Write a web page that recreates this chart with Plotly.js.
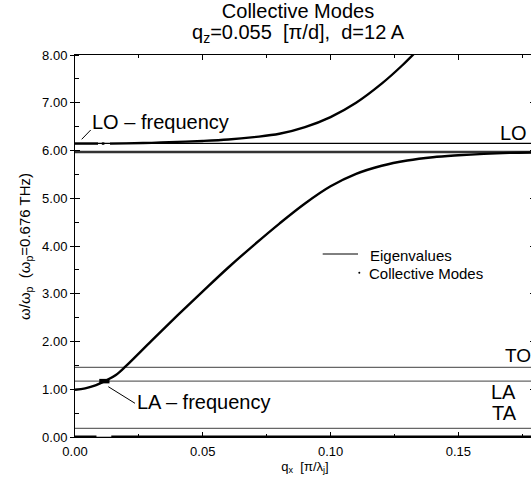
<!DOCTYPE html>
<html><head><meta charset="utf-8">
<script src="https://cdn.plot.ly/plotly-3.0.1.min.js"></script>
<style>html,body{margin:0;padding:0;overflow:hidden;background:#fff;width:531px;height:480px}</style>
</head><body><div id="chart" style="width:540px;height:480px"></div>
<script>
const F = 'Liberation Sans, Arial, Helvetica, sans-serif';

// Collective mode branches (q_x in pi/lambda_j, omega/omega_p)
const lowerX = [0,0.004,0.008,0.012,0.016,0.02,0.03,0.04,0.05,0.06,0.07,0.08,0.09,0.10,0.11,0.12,0.13,0.14,0.15,0.16,0.17,0.18];
const lowerY = [0.99,1.02,1.08,1.18,1.30,1.49,2.02,2.54,3.05,3.55,4.02,4.47,4.89,5.25,5.51,5.68,5.79,5.86,5.90,5.93,5.95,5.96];
const upperX = [0,0.009,null,0.0105,0.0115,null,0.0137,0.02,0.03,0.04,0.05,0.06,0.07,0.08,0.09,0.10,0.11,0.12,0.128,0.134];
const upperY = [6.145,6.145,null,6.145,6.145,null,6.145,6.15,6.16,6.18,6.20,6.23,6.28,6.35,6.49,6.70,7.00,7.40,7.78,8.10];
const zeroModeX = [0,0.0084,null,0.0142,0.18];
const zeroModeY = [0,0,null,0,0];
const crossX = [0.0095,0.0135];
const crossY = [1.17,1.17];

// Eigenvalue levels
const eigenNames = ['zero','TA','LA','TO','band','LO'];
const eigenLevels = [0,0.18,1.17,1.46,5.97,6.15];
const eigenColors = ['#777','#666','#666','#666','#333','#000'];
const eigenWidths = [1.2,1.3,1.3,1.3,2.6,1.2];
const qRange = [0,0.18];

// Tick values
const yTickVals = [0,1,2,3,4,5,6,7,8];
const xTickVals = [0,0.05,0.10,0.15];

const traces = [];
eigenLevels.forEach((v,i)=>{
  traces.push({x:qRange, y:[v,v], mode:'lines', name:eigenNames[i], showlegend:false, hoverinfo:'skip',
    line:{color:eigenColors[i], width:eigenWidths[i]}});
});
const modeLine = {color:'#000', width:2.4, shape:'spline', smoothing:1};
traces.push({x:lowerX, y:lowerY, mode:'lines', line:modeLine, showlegend:false, connectgaps:false});
traces.push({x:upperX, y:upperY, mode:'lines', line:modeLine, showlegend:false, connectgaps:false});
traces.push({x:zeroModeX, y:zeroModeY, mode:'lines', line:{color:'#000', width:3}, showlegend:false, connectgaps:false});
traces.push({x:crossX, y:crossY, mode:'lines', line:{color:'#000', width:4.5}, showlegend:false});
traces.push({x:[0], y:[0], yaxis:'y2', mode:'markers', marker:{opacity:0}, showlegend:false, hoverinfo:'skip'});

// pixel -> paper helpers (plot area 75..535 x 55..437)
const px = v => (v-75)/460;
const py = v => (437-v)/382;

const ann = (text, x, y, size, xanchor) => ({text, xref:'paper', yref:'paper', x:px(x), y:py(y),
  xanchor:xanchor||'left', yanchor:'middle', showarrow:false, font:{family:F, size:size, color:'#000'}});

const layout = {
  width:540, height:480,
  margin:{l:75, r:5, t:55, b:43},
  paper_bgcolor:'#fff', plot_bgcolor:'#fff',
  font:{family:F, color:'#000'},
  showlegend:false,
  title:{text:'Collective Modes', font:{family:F, size:20, color:'#000'},
    xref:'container', x:298/540, xanchor:'center', yref:'container', y:1-11/480, yanchor:'middle'},
  xaxis:{range:qRange, tickvals:xTickVals, ticktext:xTickVals.map(v=>v.toFixed(2)),
    ticks:'inside', ticklen:5, tickwidth:1, tickcolor:'#000', ticklabelstandoff:2,
    minor:{dtick:0.025, ticks:'inside', ticklen:3, tickcolor:'#000'},
    showline:true, linecolor:'#000', linewidth:1, mirror:'ticks', showgrid:false, zeroline:false,
    tickfont:{family:F, size:13, color:'#000'},
    title:{text:'q<sub>x</sub>\u00a0\u00a0[π/λ<sub>j</sub>]', font:{family:F, size:13, color:'#000'}, standoff:0}},
  yaxis:{range:[0,8], tickvals:yTickVals, ticktext:yTickVals.map(v=>v.toFixed(2)),
    ticks:'outside', ticklen:4, tickwidth:1, tickcolor:'#000',
    minor:{dtick:0.5, ticks:'inside', ticklen:4, tickcolor:'#000'},
    showline:true, linecolor:'#000', linewidth:1, mirror:'ticks', showgrid:false, zeroline:false,
    tickfont:{family:F, size:13, color:'#000'}},
  yaxis2:{range:[0,8], overlaying:'y', side:'left', tickvals:yTickVals, showticklabels:false,
    ticks:'inside', ticklen:5, tickcolor:'#000', mirror:'ticks', showline:false, showgrid:false, zeroline:false},
  annotations:[
    {text:'q<sub>z</sub>=0.055\u00a0\u00a0[π/d],\u00a0\u00a0d=12 A', xref:'paper', yref:'paper', x:px(298), y:py(33),
      xanchor:'center', yanchor:'middle', showarrow:false, font:{family:F, size:20, color:'#000'}},
    {text:'ω/ω<sub>p</sub>\u00a0\u00a0(ω<sub>p</sub>=0.676 THz)', xref:'paper', yref:'paper', x:px(25), y:py(247),
      xanchor:'center', yanchor:'middle', textangle:-90, showarrow:false, font:{family:F, size:15, color:'#000'}},
    ann('LO – frequency', 90, 122, 20),
    ann('LA – frequency', 135, 402, 20),
    ann('LO', 529, 133, 20, 'right'),
    ann('TO', 503, 355, 19),
    ann('LA', 489, 392, 20),
    ann('TA', 490, 413, 20),
    ann('Eigenvalues', 368, 255, 15),
    ann('Collective Modes', 367, 273, 15)
  ],
  shapes:[
    {type:'line', xref:'paper', yref:'paper', x0:px(81.7), y0:py(139.3), x1:px(90.7), y1:py(130), line:{color:'#000', width:1}},
    {type:'line', xref:'paper', yref:'paper', x0:px(108.3), y0:py(386.7), x1:px(135), y1:py(403.3), line:{color:'#000', width:1}},
    {type:'line', xref:'paper', yref:'paper', x0:px(322.7), y0:py(254), x1:px(358), y1:py(254), line:{color:'#000', width:1}},
    {type:'circle', xref:'paper', yref:'paper', x0:px(358.3), y0:py(271.7), x1:px(360.3), y1:py(273.7), fillcolor:'#000', line:{width:0}}
  ]
};
Plotly.newPlot('chart', traces, layout, {displayModeBar:false, staticPlot:true});
</script></body></html>
